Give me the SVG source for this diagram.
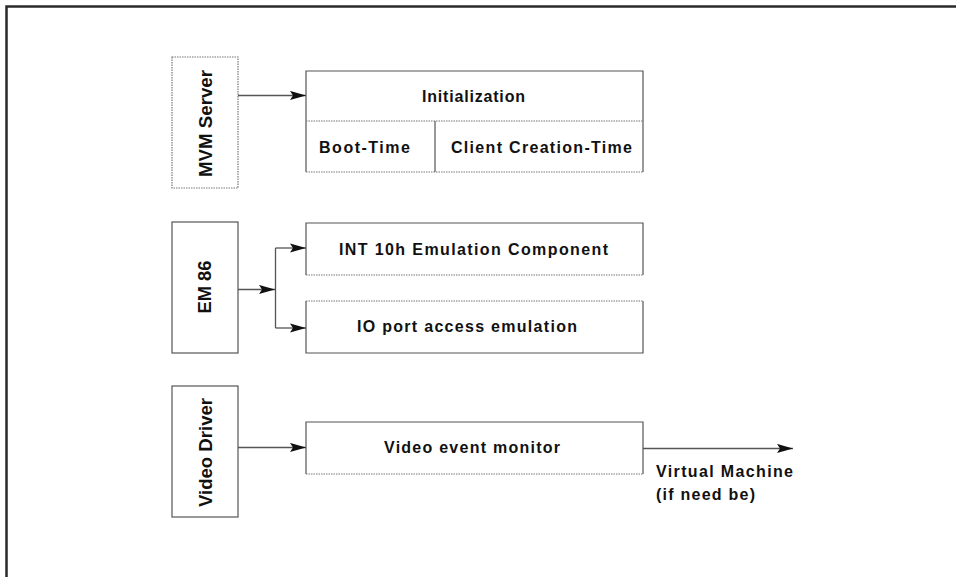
<svg xmlns="http://www.w3.org/2000/svg" width="956" height="577" viewBox="0 0 956 577">
  <style>
    .edge { fill: none; stroke: #555; stroke-width: 1.2; }
    .dot { fill: none; stroke: #777; stroke-width: 1.2; stroke-dasharray: 1.5 1; }
    .wire { fill: none; stroke: #555; stroke-width: 1.3; }
    .lbl { font-family: "Liberation Sans", Arial, Helvetica, sans-serif; font-size: 16px; font-weight: bold; fill: #111; }
    .vlbl { font-family: "Liberation Sans", Arial, Helvetica, sans-serif; font-size: 17.5px; font-weight: bold; fill: #111; }
    .frame { stroke: #2a2a2a; stroke-width: 2.5; fill: none; }
  </style>
  <defs>
    <marker id="head" viewBox="-17 -5 18 10" refX="0" refY="0" markerWidth="18" markerHeight="10" markerUnits="userSpaceOnUse" orient="auto">
      <path d="M0,0 L-16,-4.6 L-13,0 L-16,4.6 Z" fill="#111"/>
    </marker>
  </defs>
  <rect width="956" height="577" fill="#fff"/>

  <!-- page frame (top and left rules only) -->
  <path class="frame" d="M6.5,577 V6.5 H956"/>

  <!-- MVM Server -->
  <g id="mvm-server">
    <rect class="dot" x="172" y="57" width="66" height="131"/>
    <text class="vlbl" transform="translate(211.5,123.5) rotate(-90)" text-anchor="middle" textLength="107" lengthAdjust="spacingAndGlyphs">MVM Server</text>
  </g>

  <!-- Initialization -->
  <g id="initialization">
    <path class="edge" d="M306,172 V71 H643 V172"/>
    <path class="dot" d="M306,172 H643"/>
    <path class="dot" d="M306,121 H643"/>
    <path class="edge" d="M435,121 V172"/>
    <text class="lbl" x="422" y="102" textLength="103" lengthAdjust="spacing">Initialization</text>
    <text class="lbl" x="319" y="153" textLength="91" lengthAdjust="spacing">Boot-Time</text>
    <text class="lbl" x="451" y="153" textLength="181" lengthAdjust="spacing">Client Creation-Time</text>
  </g>

  <!-- EM 86 -->
  <g id="em86">
    <rect class="edge" x="172" y="222" width="66" height="131"/>
    <text class="vlbl" transform="translate(211,287) rotate(-90)" text-anchor="middle" textLength="53" lengthAdjust="spacingAndGlyphs">EM 86</text>
  </g>

  <!-- INT 10h Emulation Component -->
  <g id="int10h">
    <path class="edge" d="M306,275 V223 H643 V275"/>
    <path class="dot" d="M306,275 H643"/>
    <text class="lbl" x="339" y="255" textLength="269" lengthAdjust="spacing">INT 10h Emulation Component</text>
  </g>

  <!-- IO port access emulation -->
  <g id="io-port">
    <path class="edge" d="M306,301 V353 H643 V301"/>
    <path class="dot" d="M306,301 H643"/>
    <text class="lbl" x="357" y="332" textLength="220" lengthAdjust="spacing">IO port access emulation</text>
  </g>

  <!-- Video Driver -->
  <g id="video-driver">
    <rect class="edge" x="172" y="386" width="66" height="131"/>
    <text class="vlbl" transform="translate(211.5,452.5) rotate(-90)" text-anchor="middle" textLength="109" lengthAdjust="spacingAndGlyphs">Video Driver</text>
  </g>

  <!-- Video event monitor -->
  <g id="video-monitor">
    <path class="edge" d="M306,474 V422 H643 V474"/>
    <path class="dot" d="M306,474 H643"/>
    <text class="lbl" x="384" y="453" textLength="176" lengthAdjust="spacing">Video event monitor</text>
  </g>

  <!-- Virtual Machine label -->
  <g id="virtual-machine">
    <text class="lbl" x="656" y="477" textLength="137" lengthAdjust="spacing">Virtual Machine</text>
    <text class="lbl" x="656" y="500" textLength="99" lengthAdjust="spacing">(if need be)</text>
  </g>

  <!-- connectors -->
  <g id="connectors">
    <path class="wire" d="M238,95.5 H306" marker-end="url(#head)"/>
    <path class="wire" d="M238,289.5 H275" marker-end="url(#head)"/>
    <path class="wire" d="M275.5,248 V328"/>
    <path class="wire" d="M275.5,248 H306" marker-end="url(#head)"/>
    <path class="wire" d="M275.5,328 H306" marker-end="url(#head)"/>
    <path class="wire" d="M238,447.5 H306" marker-end="url(#head)"/>
    <path class="wire" d="M643,448.5 H793" marker-end="url(#head)"/>
  </g>
</svg>
